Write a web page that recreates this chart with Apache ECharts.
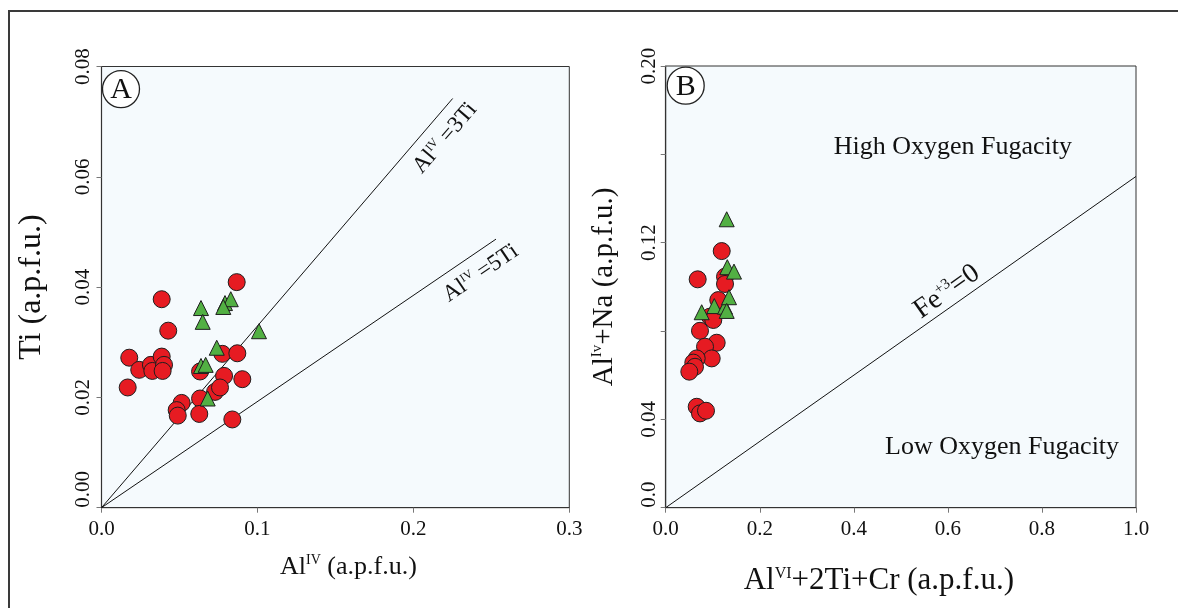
<!DOCTYPE html>
<html><head><meta charset="utf-8">
<script src="https://cdn.jsdelivr.net/npm/echarts@6/dist/echarts.min.js"></script>
<style>html,body{margin:0;padding:0;background:#fff;}#c{width:1178px;height:608px;}</style>
</head><body><div id="c"></div>
<script>
const FONT = '"Liberation Serif","Times New Roman",serif';

// ---------- Panel A : Ti vs AlIV ----------
const aRedX = [0.0867,0.0386,0.0428,0.0178,0.0242,0.0317,0.0326,0.0386,0.0401,0.0392,0.0168,0.0775,0.0871,0.0786,0.0903,0.0632,0.0728,0.0760,0.0632,0.0514,0.0482,0.0489,0.0627,0.0839];
const aRedY = [0.0409,0.0378,0.0321,0.0272,0.0250,0.0259,0.0248,0.0274,0.0259,0.0248,0.0218,0.0279,0.0280,0.0239,0.0233,0.0247,0.0210,0.0218,0.0198,0.0190,0.0177,0.0167,0.0170,0.0160];
const aGreenX = [0.0638,0.0649,0.0792,0.0829,0.0781,0.1010,0.0739,0.0638,0.0668,0.0681];
const aGreenY = [0.0362,0.0337,0.0371,0.0378,0.0364,0.0320,0.0290,0.0257,0.0259,0.0198];
const aXTickLabels = ['0.0','0.1','0.2','0.3'];
const aYTickLabels = ['0.00','0.02','0.04','0.06','0.08'];
const line3Ti = [[0,0],[0.2252,0.0742]];
const line5Ti = [[0,0],[0.2530,0.0487]];

// ---------- Panel B : AlIV+Na vs AlVI+2Ti+Cr ----------
const bRedX = [0.1191,0.0680,0.1261,0.1261,0.1118,0.0942,0.1012,0.0729,0.1084,0.0836,0.0978,0.0659,0.0587,0.0623,0.0502,0.0659,0.0729,0.0857];
const bRedY = [0.1162,0.1034,0.1046,0.1013,0.0940,0.0865,0.0850,0.0801,0.0747,0.0729,0.0676,0.0676,0.0657,0.0638,0.0616,0.0457,0.0427,0.0439];
const bGreenX = [0.1297,0.1310,0.1452,0.0765,0.1033,0.1261,0.1346,0.1297];
const bGreenY = [0.1306,0.1089,0.1069,0.0885,0.0913,0.0910,0.0953,0.0891];
const bXTickLabels = ['0.0','0.2','0.4','0.6','0.8','1.0'];
const bYTickValues = [0,0.04,0.12,0.20];
const bYTickLabels = ['0.0','0.04','0.12','0.20'];
const lineFe = [[0,0],[1.0,0.150]];

// annotation anchors in data units
const panelTagA = [0.0125,0.0759];
const panelTagB = [0.0425,0.1911];
const lab3TiPos = [0.2203,0.0670];
const lab5TiPos = [0.2432,0.0425];
const labFePos = [0.5977,0.0978];
const highPos = [0.6105,0.1632];
const lowPos = [0.7153,0.0276];

const zip = (xs, ys) => xs.map((x,i)=>[x,ys[i]]);

const RED = '#e61b22', GREEN = '#52b043', EDGE = '#1e1e1e';
const supRich = (base, sup) => ({
  n:{fontFamily:FONT,fontSize:base,color:'#111'},
  s:{fontFamily:FONT,fontSize:sup,color:'#111',verticalAlign:'top'}
});

function axisCommon(){
  return {
    axisLine:{show:true,lineStyle:{color:'#333',width:1.2}},
    axisTick:{show:true,length:5,lineStyle:{color:'#777',width:1}},
    splitLine:{show:false}
  };
}

const chart = echarts.init(document.getElementById('c'), null, {renderer:'canvas'});
const option = {
  animation:false,
  backgroundColor:'#ffffff',
  grid:[
    {left:101.5, top:66.5, width:467.8, height:441.2, show:true, backgroundColor:'#f5fafd', borderColor:'#333', borderWidth:1},
    {left:665.7, top:66, width:470.3, height:441.7, show:true, backgroundColor:'#f5fafd', borderColor:'#333', borderWidth:1}
  ],
  xAxis:[
    Object.assign(axisCommon(),{
      gridIndex:0, type:'value', min:0, max:0.3, interval:0.1,
      axisLabel:{fontFamily:FONT,fontSize:21,color:'#111',margin:11,
        formatter:v=>aXTickLabels[Math.round(v/0.1)] ?? ''},
      name:'{n|Al}{s|IV}{n| (a.p.f.u.)}', nameLocation:'middle', nameGap:46,
      nameTextStyle:{padding:[0,0,0,26],rich:supRich(26,14)}
    }),
    Object.assign(axisCommon(),{
      gridIndex:1, type:'value', min:0, max:1.0, interval:0.2,
      axisLabel:{fontFamily:FONT,fontSize:21,color:'#111',margin:11,
        formatter:v=>bXTickLabels[Math.round(v/0.2)] ?? ''},
      name:'{n|Al}{s|VI}{n|+2Ti+Cr (a.p.f.u.)}', nameLocation:'middle', nameGap:58,
      nameTextStyle:{padding:[0,44,0,0],rich:supRich(31,16)}
    })
  ],
  yAxis:[
    Object.assign(axisCommon(),{
      gridIndex:0, type:'value', min:0, max:0.08, interval:0.02,
      axisLabel:{fontFamily:FONT,fontSize:21,color:'#111',margin:8,rotate:90,alignMinLabel:'left',
        formatter:v=>aYTickLabels[Math.round(v/0.02)] ?? ''},
      name:'Ti (a.p.f.u.)', nameLocation:'middle', nameGap:54, nameRotate:90,
      nameTextStyle:{fontFamily:FONT,fontSize:32,color:'#111'}
    }),
    Object.assign(axisCommon(),{
      gridIndex:1, type:'value', min:0, max:0.2, interval:0.04,
      axisLabel:{fontFamily:FONT,fontSize:21,color:'#111',margin:6,rotate:90,alignMinLabel:'left',
        formatter:v=>{const i=bYTickValues.findIndex(t=>Math.abs(t-v)<1e-9);return i>=0?bYTickLabels[i]:'';}},
      name:'{n|Al}{s|Iv}{n|+Na (a.p.f.u.)}', nameLocation:'middle', nameGap:47, nameRotate:90,
      nameTextStyle:{rich:supRich(29,15)}
    })
  ],
  series:[
    {type:'line', xAxisIndex:0, yAxisIndex:0, data:line3Ti, symbol:'none', silent:true, lineStyle:{color:'#111',width:1}, z:2},
    {type:'line', xAxisIndex:0, yAxisIndex:0, data:line5Ti, symbol:'none', silent:true, lineStyle:{color:'#111',width:1}, z:2},
    {type:'line', xAxisIndex:1, yAxisIndex:1, data:lineFe, symbol:'none', silent:true, lineStyle:{color:'#111',width:1}, z:2},
    {type:'scatter', xAxisIndex:0, yAxisIndex:0, data:zip(aRedX,aRedY), symbol:'circle', symbolSize:17,
      itemStyle:{color:RED,borderColor:EDGE,borderWidth:1,opacity:1}, z:3},
    {type:'scatter', xAxisIndex:0, yAxisIndex:0, data:zip(aGreenX,aGreenY), symbol:'triangle', symbolSize:15,
      itemStyle:{color:GREEN,borderColor:EDGE,borderWidth:1,opacity:1}, z:4},
    {type:'scatter', xAxisIndex:1, yAxisIndex:1, data:zip(bRedX,bRedY), symbol:'circle', symbolSize:17,
      itemStyle:{color:RED,borderColor:EDGE,borderWidth:1,opacity:1}, z:3},
    {type:'scatter', xAxisIndex:1, yAxisIndex:1, data:zip(bGreenX,bGreenY), symbol:'triangle', symbolSize:15,
      itemStyle:{color:GREEN,borderColor:EDGE,borderWidth:1,opacity:1}, z:4}
  ]
};
chart.setOption(option);

function px(g, p){ return chart.convertToPixel({gridIndex:g}, p); }
function angleOf(g, line){
  const p0 = px(g,line[0]), p1 = px(g,line[line.length-1]);
  return Math.atan2(p0[1]-p1[1], p1[0]-p0[0]);
}
function richText(g, pos, text, rot, base, sup){
  const p = px(g,pos);
  return {type:'text', x:p[0], y:p[1], rotation:rot, silent:true, z:10,
    style:{text:text, align:'center', verticalAlign:'middle', textAlign:'center', textVerticalAlign:'middle',
      fontFamily:FONT, fontSize:base, fill:'#111', rich:supRich(base,sup)}};
}
function tag(g, pos, letter){
  const p = px(g,pos);
  return [
    {type:'circle', shape:{cx:p[0],cy:p[1],r:18.5}, silent:true, z:10,
      style:{fill:'#ffffff',stroke:'#222',lineWidth:1.3}},
    {type:'text', x:p[0], y:p[1]+1, silent:true, z:11,
      style:{text:letter, align:'center', verticalAlign:'middle', textAlign:'center', textVerticalAlign:'middle',
        fontFamily:FONT, fontSize:30, fill:'#111'}}
  ];
}
const graphics = [
  {type:'rect', shape:{x:9,y:11,width:1400,height:800}, silent:true, z:20,
    style:{fill:'none',stroke:'#3a3a3a',lineWidth:2}},
  ...tag(0, panelTagA, 'A'),
  ...tag(1, panelTagB, 'B'),
  richText(0, lab3TiPos, '{n|Al}{s|IV}{n| =3Ti}', angleOf(0,line3Ti), 23, 12),
  richText(0, lab5TiPos, '{n|Al}{s|IV}{n| =5Ti}', angleOf(0,line5Ti), 23, 12),
  richText(1, labFePos, '{n|Fe}{s|+3}{n|=0}', angleOf(1,lineFe), 28, 15),
  richText(1, highPos, '{n|High Oxygen Fugacity}', 0, 26, 14),
  richText(1, lowPos, '{n|Low Oxygen Fugacity}', 0, 26, 14)
];
chart.setOption({graphic:graphics});
</script>
</body></html>
